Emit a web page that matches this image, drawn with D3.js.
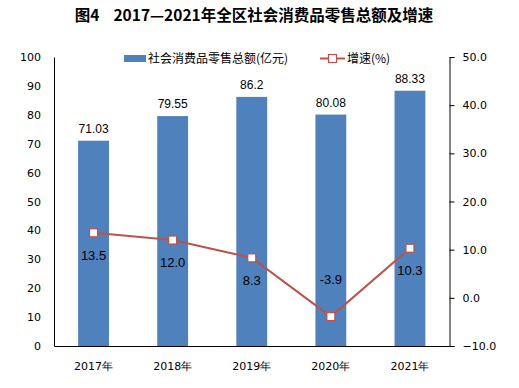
<!DOCTYPE html>
<html><head><meta charset="utf-8">
<script src="https://cdn.jsdelivr.net/npm/d3@7"></script>
<style>body{margin:0;background:#fff}svg{display:block}</style>
</head><body>
<script>
const years = ["2017年","2018年","2019年","2020年","2021年"];
const sales = [71.03, 79.55, 86.2, 80.08, 88.33];
const salesLabels = ["71.03","79.55","86.2","80.08","88.33"];
const growth = [13.5, 12.0, 8.3, -3.9, 10.3];
const leftTicks = [0,10,20,30,40,50,60,70,80,90,100];
const rightTicks = [-10,0,10,20,30,40,50];

const W=519,H=388;
const L=54,R=449.5,T=57,B=346;
const svg=d3.select("body").append("svg").attr("width",W).attr("height",H);
const axisFont="'DejaVu Sans', Verdana, sans-serif";
const cjk="'Noto Sans CJK SC', sans-serif";

const title=svg.append("text").attr("y",21).attr("text-anchor","middle").attr("x",254)
  .attr("font-family",cjk).attr("font-weight","bold").attr("font-size",15.5).attr("fill","#000");
title.append("tspan").text("图4");
title.append("tspan").attr("dx",14).text("2017—2021年全区社会消费品零售总额及增速");

const x=d3.scaleBand().domain(years).range([L,R]).paddingInner(0.61).paddingOuter(0.305);
const yL=d3.scaleLinear().domain([0,100]).range([B,T]);
const yR=d3.scaleLinear().domain([-10,50]).range([B,T]);

// bars
svg.selectAll("rect.bar").data(years).enter().append("rect")
  .attr("x",d=>x(d)).attr("width",x.bandwidth())
  .attr("y",(d,i)=>yL(sales[i])).attr("height",(d,i)=>B-yL(sales[i]))
  .attr("fill","#4F81BD");

// left axis
const gl=svg.append("g").attr("transform",`translate(${L},0)`)
  .call(d3.axisLeft(yL).tickValues(leftTicks).tickSize(0).tickPadding(13));
gl.select(".domain").attr("stroke","#000");
gl.selectAll("text").attr("font-family",axisFont).attr("font-size",11).attr("fill","#000");

// right axis
const gr=svg.append("g").attr("transform",`translate(${R},0)`)
  .call(d3.axisRight(yR).tickValues(rightTicks).tickSize(5).tickPadding(8).tickFormat(d3.format(".1f")).tickSizeOuter(5));
gr.select(".domain").attr("stroke","#000");
gr.selectAll("line").attr("stroke","#000");
gr.selectAll("text").attr("font-family",axisFont).attr("font-size",11).attr("fill","#000");

// bottom axis
const gb=svg.append("g").attr("transform",`translate(0,${B})`)
  .call(d3.axisBottom(x).tickSize(0).tickPadding(16));
gb.select(".domain").attr("stroke","#000");
gb.selectAll("text").attr("font-family",axisFont).attr("font-size",11).attr("fill","#000");

// bar labels
svg.selectAll("text.bl").data(years).enter().append("text")
  .attr("x",d=>x(d)+x.bandwidth()/2).attr("y",(d,i)=>yL(sales[i])-8)
  .attr("text-anchor","middle").attr("font-family","'Liberation Sans', Arial, sans-serif")
  .attr("font-size",12).attr("fill","#000").text((d,i)=>salesLabels[i]);

// line
const cx=d=>x(d)+x.bandwidth()/2;
const line=d3.line().x((d,i)=>cx(years[i])).y(d=>yR(d));
svg.append("path").datum(growth).attr("d",line).attr("fill","none")
  .attr("stroke","#C0504D").attr("stroke-width",2);
svg.selectAll("rect.mk").data(growth).enter().append("rect")
  .attr("x",(d,i)=>cx(years[i])-4).attr("y",d=>yR(d)-4).attr("width",8).attr("height",8)
  .attr("fill","#fff").attr("stroke","#C0504D").attr("stroke-width",1.2);
svg.selectAll("text.gl").data(growth).enter().append("text")
  .attr("x",(d,i)=>cx(years[i])).attr("y",d=>d<0 ? yR(d)-33 : yR(d)+27)
  .attr("text-anchor","middle").attr("font-family","'Liberation Sans', Arial, sans-serif")
  .attr("font-size",13).attr("fill","#000").text(d=>d.toFixed(1));

// legend
svg.append("rect").attr("x",124).attr("y",55).attr("width",22).attr("height",7).attr("fill","#4F81BD");
svg.append("text").attr("x",148).attr("y",63).attr("font-family",cjk).attr("font-size",12).attr("fill","#000")
  .text("社会消费品零售总额(亿元)");
svg.append("line").attr("x1",320).attr("x2",345).attr("y1",58.5).attr("y2",58.5).attr("stroke","#C0504D").attr("stroke-width",2);
svg.append("rect").attr("x",328.5).attr("y",54.5).attr("width",8).attr("height",8).attr("fill","#fff").attr("stroke","#C0504D").attr("stroke-width",1.2);
svg.append("text").attr("x",347).attr("y",63).attr("font-family",cjk).attr("font-size",12).attr("fill","#000")
  .text("增速(%)");
</script>
</body></html>
